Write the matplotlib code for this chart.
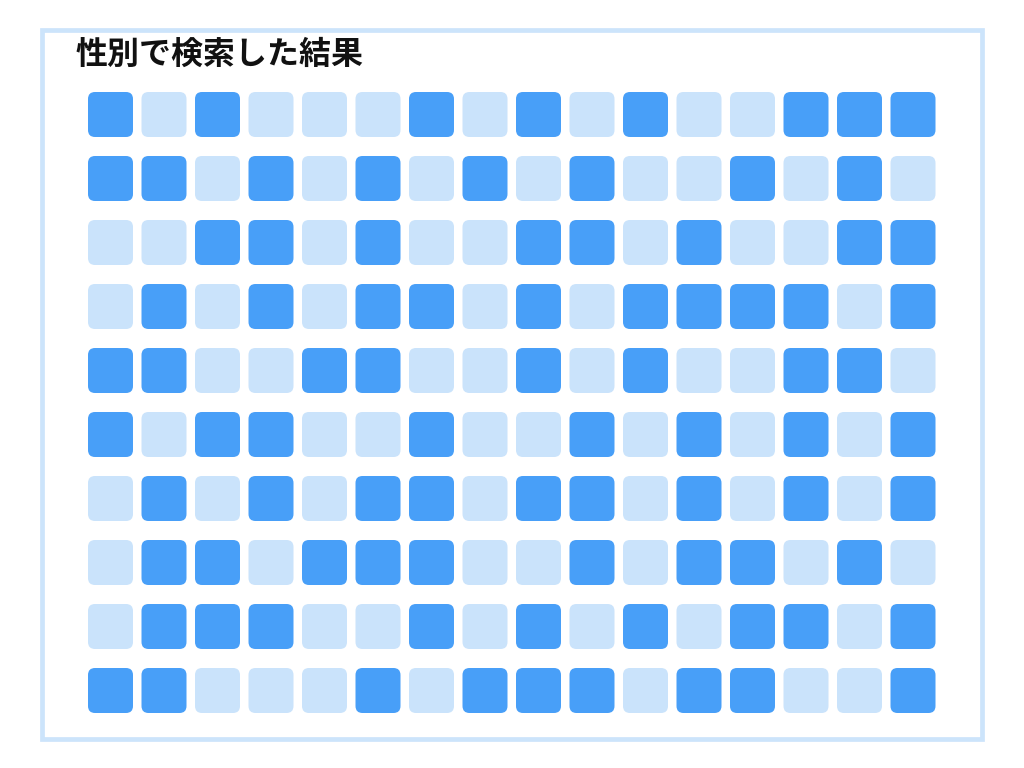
import matplotlib
matplotlib.use("Agg")
import matplotlib.pyplot as plt
from matplotlib.patches import FancyBboxPatch, Rectangle

plt.rcParams["font.family"] = ["Noto Sans CJK JP", "DejaVu Sans"]

TITLE = "性別で検索した結果"

# 1 = dark tile, 0 = light tile (10 rows x 16 columns)
grid = [
    "1010001010100111",
    "1101010101001010",
    "0011010011010011",
    "0101011010111101",
    "1100110010100110",
    "1011001001010101",
    "0101011011010101",
    "0110111001011010",
    "0111001010101101",
    "1100010111011001",
]
tile_colors = {"1": "#489ff8", "0": "#cae3fb"}

W, H = 1024, 768
X0, Y0 = 88, 92          # top-left of first tile (px)
TILE = 45
PITCH_X, PITCH_Y = 53.5, 64

fig = plt.figure(figsize=(W / 100, H / 100), dpi=100)
ax = fig.add_axes([0, 0, 1, 1])
ax.set_xlim(0, W)
ax.set_ylim(H, 0)
ax.axis("off")

# outer frame
ax.add_patch(Rectangle((42, 29.5), 940, 709, fill=False,
                       edgecolor="#cce4fb", linewidth=3.4))

ax.text(76, 55, TITLE, fontsize=23, fontweight="bold", color="#111111",
        va="center", ha="left")

for r, row in enumerate(grid):
    for c, v in enumerate(row):
        x = X0 + c * PITCH_X
        y = Y0 + r * PITCH_Y
        ax.add_patch(FancyBboxPatch((x, y), TILE, TILE,
                                    boxstyle="round,pad=0,rounding_size=7",
                                    facecolor=tile_colors[v], edgecolor="none"))

fig.savefig("out.png", dpi=100)
